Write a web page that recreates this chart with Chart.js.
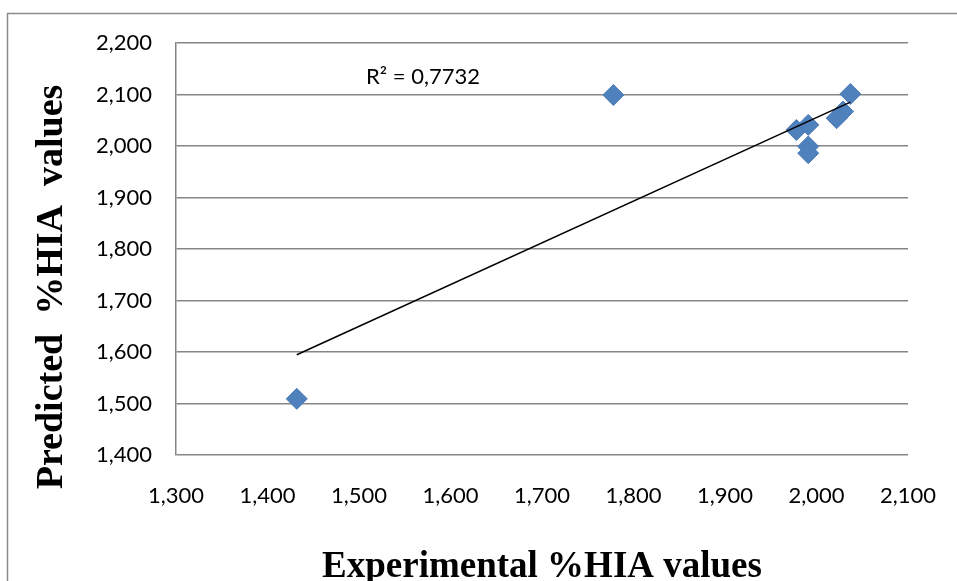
<!DOCTYPE html>
<html>
<head>
<meta charset="utf-8">
<script src="https://cdn.jsdelivr.net/npm/chart.js@4/dist/chart.umd.min.js"></script>
<style>
  html, body { margin: 0; padding: 0; background: #fff; }
  canvas { display: block; }
</style>
</head>
<body>
<canvas id="c" width="957" height="581"></canvas>
<script>
// ---- data ----
const experimental = [1432, 1778, 2037, 2029, 2022, 1978, 1991, 1991, 1991];
const predicted    = [1509, 2099, 2101, 2067, 2054, 2031, 2041, 1999, 1986];
const xTicks = [1300, 1400, 1500, 1600, 1700, 1800, 1900, 2000, 2100];
const yTicks = [1400, 1500, 1600, 1700, 1800, 1900, 2000, 2100, 2200];
const r2Label = 'R\u00B2 = 0,7732';
const xTitle = 'Experimental %HIA values';
const yTitle = 'Predicted  %HIA  values';

// linear least-squares trendline from the data
const n = experimental.length;
const mx = experimental.reduce((a, b) => a + b, 0) / n;
const my = predicted.reduce((a, b) => a + b, 0) / n;
let sxy = 0, sxx = 0;
for (let i = 0; i < n; i++) {
  sxy += (experimental[i] - mx) * (predicted[i] - my);
  sxx += (experimental[i] - mx) ** 2;
}
const slope = sxy / sxx;
const intercept = my - slope * mx;
const xMin = Math.min(...experimental), xMax = Math.max(...experimental);
const trend = [
  { x: xMin, y: intercept + slope * xMin },
  { x: xMax, y: intercept + slope * xMax }
];

const fmt = v => Number(v).toLocaleString('en-US');
const tickFamily = "Lato, 'Open Sans', 'Liberation Sans', sans-serif";
const tickFont = { family: tickFamily, size: 22 };

const decor = {
  id: 'decor',
  beforeDraw(chart) {
    const ctx = chart.ctx;
    ctx.save();
    ctx.strokeStyle = '#8c8c8c';
    ctx.lineWidth = 1.5;
    ctx.beginPath();
    ctx.moveTo(7.5, 581);
    ctx.lineTo(7.5, 13.5);
    ctx.lineTo(957, 13.5);
    ctx.stroke();
    ctx.restore();
  },
  afterDraw(chart) {
    const ctx = chart.ctx;
    const xs = chart.scales.x;
    ctx.save();
    ctx.fillStyle = '#000';
    ctx.textAlign = 'center';
    ctx.textBaseline = 'middle';
    // R² label
    ctx.font = "22px " + tickFamily;
    ctx.fillText(r2Label, 423, 77);
    // axis titles
    ctx.font = "bold 37px 'Liberation Serif', 'DejaVu Serif', serif";
    ctx.fillText(xTitle, (xs.left + xs.right) / 2, 567);
    ctx.translate(52, 287);
    ctx.rotate(-Math.PI / 2);
    ctx.font = "bold 38px 'Liberation Serif', 'DejaVu Serif', serif";
    ctx.fillText(yTitle, 0, 0);
    ctx.restore();
  }
};

new Chart(document.getElementById('c'), {
  type: 'scatter',
  data: {
    datasets: [
      {
        type: 'line',
        label: 'trend',
        data: trend,
        borderColor: '#000',
        borderWidth: 1.5,
        pointRadius: 0,
        fill: false,
        order: 0
      },
      {
        label: 'points',
        data: experimental.map((x, i) => ({ x, y: predicted[i] })),
        pointStyle: 'rectRot',
        pointRadius: 10.5,
        backgroundColor: '#4F81BD',
        borderColor: '#4A7AB5',
        borderWidth: 1,
        order: 1
      }
    ]
  },
  options: {
    responsive: false,
    animation: false,
    layout: { padding: { top: 43, right: 49, left: 0, bottom: 0 } },
    plugins: { legend: { display: false }, tooltip: { enabled: false } },
    scales: {
      x: {
        type: 'linear',
        min: xTicks[0],
        max: xTicks[xTicks.length - 1],
        afterBuildTicks: s => { s.ticks = xTicks.map(v => ({ value: v })); },
        afterFit: s => { s.height = 126; s.paddingLeft = 0; s.paddingRight = 0; },
        grid: { display: false, drawTicks: false },
        border: { display: false },
        ticks: { color: '#000', font: tickFont, padding: 28, callback: fmt, maxRotation: 0, autoSkip: false }
      },
      y: {
        type: 'linear',
        min: yTicks[0],
        max: yTicks[yTicks.length - 1],
        afterBuildTicks: s => { s.ticks = yTicks.map(v => ({ value: v })); },
        afterFit: s => { s.width = 176; s.paddingTop = 0; s.paddingBottom = 0; },
        grid: { color: '#868686', lineWidth: 1.5, drawTicks: false },
        border: { display: true, color: '#868686', width: 1.5 },
        ticks: { color: '#000', font: tickFont, padding: 24, callback: fmt, autoSkip: false }
      }
    }
  },
  plugins: [decor]
});
</script>
</body>
</html>
